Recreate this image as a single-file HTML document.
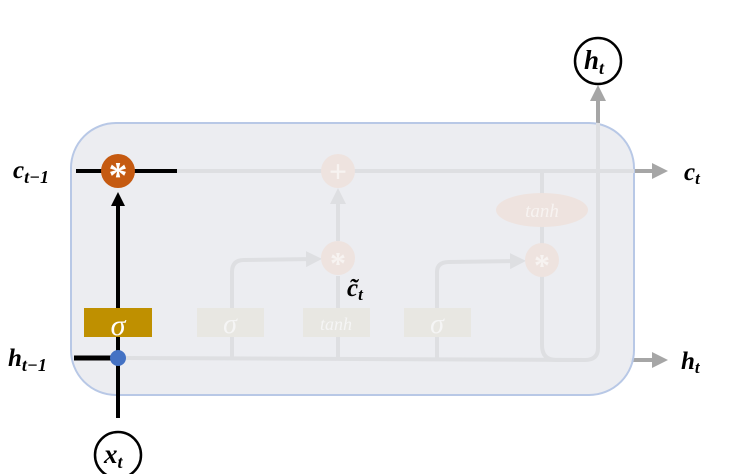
<!DOCTYPE html>
<html><head><style>body{margin:0;background:#fff}svg{display:block}</style></head><body>
<svg width="744" height="474" viewBox="0 0 744 474" xmlns="http://www.w3.org/2000/svg" font-family="'Liberation Serif',serif">
<defs>
<marker id="ag" markerWidth="4" markerHeight="4" refX="2" refY="2" orient="auto" markerUnits="strokeWidth"><path d="M0,0L4,2L0,4z" fill="#a6a6a6"/></marker>
<marker id="af" markerWidth="4" markerHeight="4" refX="2" refY="2" orient="auto" markerUnits="strokeWidth"><path d="M0,0L4,2L0,4z" fill="#dedfe2"/></marker>
<marker id="ab" markerWidth="3.5" markerHeight="3.5" refX="2" refY="1.75" orient="auto" markerUnits="strokeWidth"><path d="M0,0L3.5,1.75L0,3.5z" fill="#000"/></marker>
</defs>
<line x1="630" y1="171" x2="660" y2="171" stroke="#a6a6a6" stroke-width="4" marker-end="url(#ag)"/>
<line x1="630" y1="360" x2="660" y2="360" stroke="#a6a6a6" stroke-width="4" marker-end="url(#ag)"/>
<line x1="598" y1="130" x2="598" y2="93" stroke="#a6a6a6" stroke-width="4" marker-end="url(#ag)"/>
<rect x="71" y="123" width="563" height="272" rx="45" fill="#ebecf0" fill-opacity="0.95" stroke="#b8c8e6" stroke-width="2"/>
<g fill="none" stroke="#dedfe2" stroke-width="4">
<line x1="177" y1="171" x2="634" y2="171"/>
<path d="M126 358 L585 360 Q598 360 598 348 L598 123"/>
<path d="M232 358 L232 272 Q232 260 244 260 L314 259" marker-end="url(#af)"/>
<line x1="338" y1="358" x2="338" y2="276"/>
<line x1="338" y1="241" x2="338" y2="196" marker-end="url(#af)"/>
<path d="M437 358 L437 272 Q437 262 449 262 L518 261" marker-end="url(#af)"/>
<path d="M542 171 L542 345 Q542 360 556 360 L585 360"/>
</g>
<g fill="#e8e7e2"><rect x="197" y="308" width="67" height="29"/><rect x="303" y="308" width="67" height="29"/><rect x="404" y="308" width="67" height="29"/></g>
<g fill="#f5f5f5" font-style="italic" text-anchor="middle"><text x="230" y="333" font-size="28">σ</text><text x="336" y="330" font-size="18">tanh</text><text x="437" y="333" font-size="28">σ</text></g>
<g fill="#eee3df"><circle cx="338" cy="171" r="17"/><circle cx="338" cy="258" r="17"/><circle cx="542" cy="260" r="17"/><ellipse cx="542" cy="210" rx="46" ry="17"/></g>
<g fill="#f7f3f1" font-size="32" font-weight="bold" text-anchor="middle"><text x="338" y="182">+</text><text x="338" y="274">*</text><text x="542" y="276">*</text></g>
<text x="542" y="217" fill="#f7f3f1" font-size="19" font-style="italic" text-anchor="middle">tanh</text>
<line x1="76" y1="171" x2="177" y2="171" stroke="#000" stroke-width="4"/>
<line x1="74" y1="358" x2="118" y2="358" stroke="#000" stroke-width="5"/>
<line x1="118" y1="418" x2="118" y2="198" stroke="#000" stroke-width="4" marker-end="url(#ab)"/>
<rect x="84" y="308" width="68" height="29" fill="#bf9000"/>
<text x="118" y="335" fill="#fff" font-size="30" font-style="italic" text-anchor="middle">σ</text>
<circle cx="118" cy="171" r="17" fill="#c55a11"/>
<text x="118" y="188" fill="#fff" font-size="38" font-weight="bold" text-anchor="middle">*</text>
<circle cx="118" cy="358" r="8" fill="#4472c4"/>
<circle cx="118" cy="455" r="23" fill="#fff" stroke="#000" stroke-width="2.5"/>
<circle cx="598" cy="61" r="23" fill="#fff" stroke="#000" stroke-width="2.5"/>
<g font-weight="bold" font-style="italic" fill="#000">
<text x="104" y="463" font-size="27">x<tspan font-size="18" dy="5">t</tspan></text>
<text x="584" y="69" font-size="27">h<tspan font-size="18" dy="5">t</tspan></text>
<text x="13" y="178" font-size="25">c<tspan font-size="18" dy="5">t−1</tspan></text>
<text x="8" y="366" font-size="25">h<tspan font-size="18" dy="5">t−1</tspan></text>
<text x="684" y="180" font-size="25">c<tspan font-size="17" dy="4">t</tspan></text>
<text x="681" y="369" font-size="25">h<tspan font-size="17" dy="4">t</tspan></text>
<text x="347" y="296" font-size="25">c̃<tspan font-size="17" dy="4">t</tspan></text>
</g>
</svg>
</body></html>
